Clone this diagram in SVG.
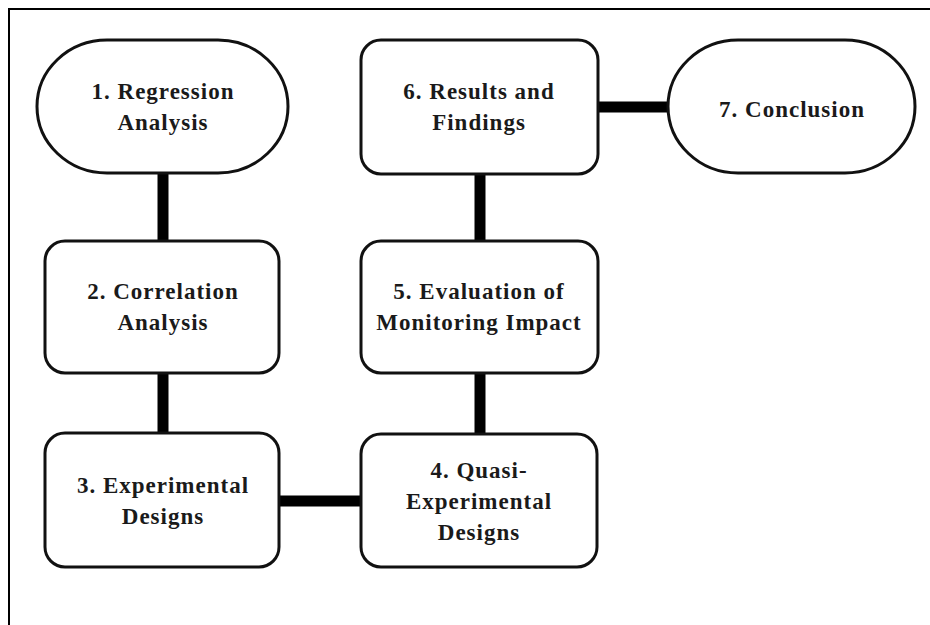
<svg xmlns="http://www.w3.org/2000/svg" width="930" height="625" viewBox="0 0 930 625">
<style>
.frame{fill:none;stroke:#000;stroke-width:2}
.node{fill:#fff;stroke:#111;stroke-width:3}
.edge{stroke:#000;stroke-width:11;fill:none}
text{font-family:"Liberation Serif","Times New Roman",serif;font-weight:bold;font-size:23px;letter-spacing:1px;fill:#1a1a1a;text-anchor:middle}
</style>
<rect width="930" height="625" fill="#fff"/>
<path class="frame" d="M930 9 H9 V625"/>
<g id="connectors">
<line class="edge" x1="163" y1="173" x2="163" y2="241"/>
<line class="edge" x1="163" y1="373" x2="163" y2="433"/>
<line class="edge" x1="279" y1="501" x2="361" y2="501"/>
<line class="edge" x1="480" y1="373" x2="480" y2="434"/>
<line class="edge" x1="480" y1="174" x2="480" y2="241"/>
<line class="edge" x1="598" y1="107" x2="668" y2="107"/>
</g>
<g id="n1">
<rect class="node" x="37" y="40" width="251" height="133" rx="70" ry="66.5"/>
<text x="163" y="99">1. Regression</text>
<text x="163" y="130">Analysis</text>
</g>
<g id="n2">
<rect class="node" x="45" y="241" width="234" height="132" rx="20"/>
<text x="163" y="299">2. Correlation</text>
<text x="163" y="330">Analysis</text>
</g>
<g id="n3">
<rect class="node" x="45" y="433" width="234" height="134" rx="20"/>
<text x="163" y="493">3. Experimental</text>
<text x="163" y="524">Designs</text>
</g>
<g id="n4">
<rect class="node" x="361" y="434" width="236" height="133" rx="20"/>
<text x="479" y="478">4. Quasi-</text>
<text x="479" y="509">Experimental</text>
<text x="479" y="540">Designs</text>
</g>
<g id="n5">
<rect class="node" x="361" y="241" width="237" height="132" rx="20"/>
<text x="479" y="299">5. Evaluation of</text>
<text x="479" y="330">Monitoring Impact</text>
</g>
<g id="n6">
<rect class="node" x="361" y="40" width="237" height="134" rx="20"/>
<text x="479" y="99">6. Results and</text>
<text x="479" y="130">Findings</text>
</g>
<g id="n7">
<rect class="node" x="668" y="40" width="247" height="133" rx="70" ry="66.5"/>
<text x="792" y="117">7. Conclusion</text>
</g>
</svg>
